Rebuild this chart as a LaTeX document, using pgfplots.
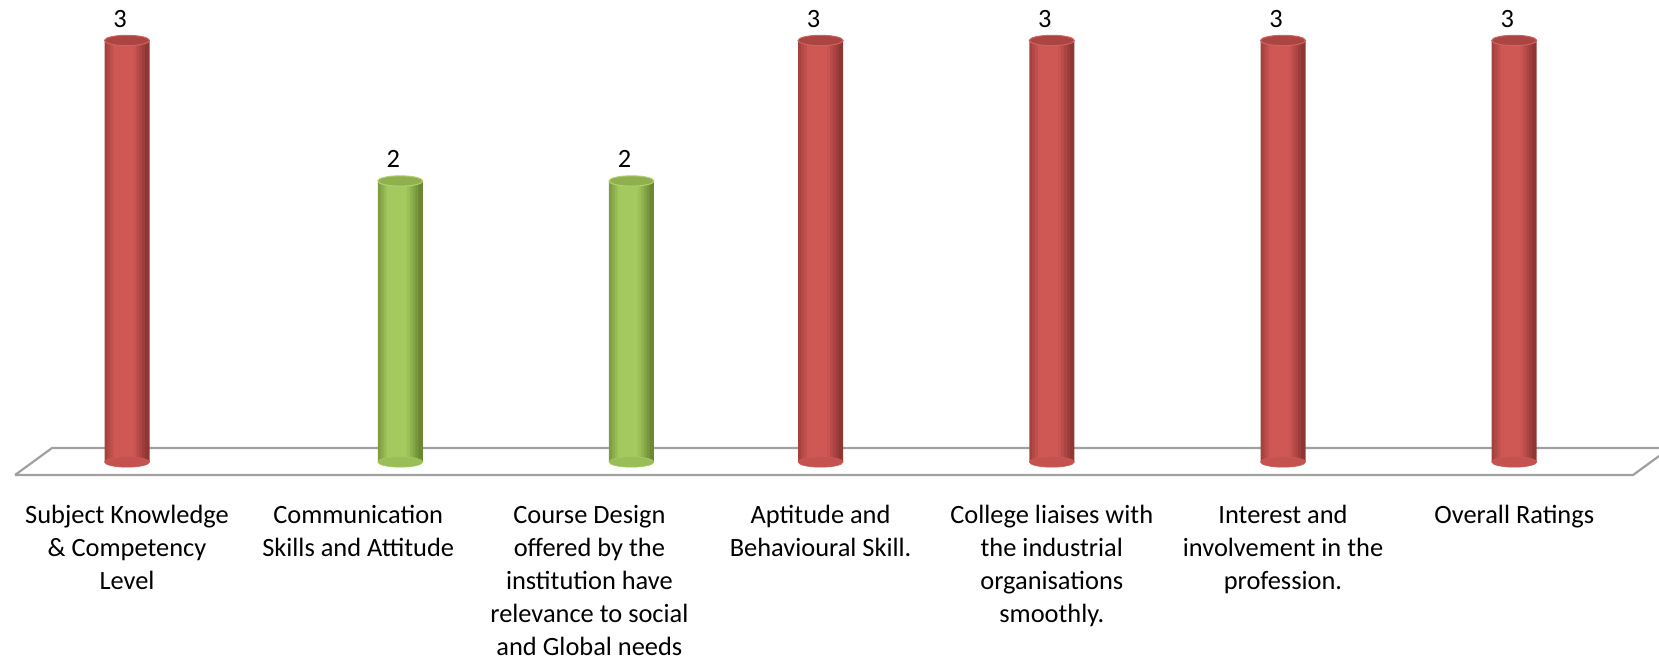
\documentclass[border=0pt]{standalone}
\usepackage{pgfplots}
\pgfplotsset{compat=1.18}
\usepackage{fontspec}
\setmainfont{Carlito}

\definecolor{redE}{RGB}{134,50,48}
\definecolor{redM}{RGB}{207,88,85}
\definecolor{redTop}{RGB}{172,68,65}
\definecolor{redRim}{RGB}{204,100,97}
\definecolor{grnE}{RGB}{100,128,44}
\definecolor{grnM}{RGB}{164,201,95}
\definecolor{grnTop}{RGB}{144,176,78}
\definecolor{grnRim}{RGB}{178,208,112}
\definecolor{floorgray}{RGB}{160,160,160}

% colours of the thin strips that make up each cylinder
\pgfplotsforeachungrouped \i in {0,...,14}{%
  \pgfmathsetmacro\t{(\i+0.5)/15}%
  \pgfmathsetmacro\p{100*min(1,1.6*(1-abs(\t-0.45)/0.56))}%
  \colorlet{rs\i}{redM!\p!redE}%
  \colorlet{gs\i}{grnM!\p!grnE}%
}

% flat ellipse used for the cylinder ends
\pgfdeclareplotmark{cylcap}{%
  \pgfpathellipse{\pgfpointorigin}{\pgfqpoint{\pgfplotmarksize}{0pt}}{\pgfqpoint{0pt}{0.23\pgfplotmarksize}}%
  \pgfusepathqfillstroke}

\begin{document}
\begin{tikzpicture}
\useasboundingbox (0,-90bp) rectangle (829.5bp,240bp);
\begin{axis}[
    at={(0,0)}, anchor=south west,
    width=829.5bp, height=240bp, scale only axis,
    xmin=-0.5493, xmax=6.6263,
    ymin=-0.128, ymax=3.288,
    axis x line*=bottom, axis y line=none,
    x axis line style={draw=none},
    major tick length=0pt,
    ytick=\empty,
    xtick={0,...,6},
    xticklabels={
        {\strut Subject Knowledge\\\& Competency\\Level},
        {\strut Communication\\Skills and Attitude},
        {\strut Course Design\\offered by the\\institution have\\relevance to social\\and Global needs},
        {\strut Aptitude and\\Behavioural Skill.},
        {\strut College liaises with\\the industrial\\organisations\\smoothly.},
        {\strut Interest and\\involvement in the\\profession.},
        {\strut Overall Ratings}},
    xticklabel style={font=\fontsize{13.2bp}{16.55bp}\selectfont, align=center,
        anchor=north, yshift=-9.9bp, inner sep=0pt},
    /pgf/number format/assume math mode=true,
    every node near coord/.append style={font=\fontsize{13.2bp}{16bp}\selectfont,
        anchor=base, yshift=6.5bp, xshift=-3.5bp, inner sep=0pt, text=black},
    ]
% floor
\addplot[draw=floorgray, line width=1.1bp, mark=none, line join=miter] coordinates {
(-0.4844,-0.0925) (6.514,-0.0925) (6.674,0.0996) (-0.3244,0.0996) (-0.4844,-0.0925)
};
% bottom ends
\addplot[only marks, mark=cylcap, mark size=11.25bp,
    mark options={fill=redM!85!redE, draw=redM, line width=0.3bp}] coordinates {
(0,0) (3,0) (4,0) (5,0) (6,0)
};
\addplot[only marks, mark=cylcap, mark size=11.25bp,
    mark options={fill=grnM!85!grnE, draw=grnM, line width=0.3bp}] coordinates {
(1.182,0) (2.182,0)
};
% column bodies, strip by strip
\pgfplotsinvokeforeach{0,...,14}{
\addplot[ybar, bar width=2.2bp, bar shift={(#1-7)*1.45bp}, draw=none, fill=rs#1]
  coordinates {(0,3) (3,3) (4,3) (5,3) (6,3)};
\addplot[ybar, bar width=2.2bp, bar shift={(#1-7)*1.45bp}, draw=none, fill=gs#1]
  coordinates {(1.182,2) (2.182,2)};
}
% top ends with value labels
\addplot[only marks, mark=cylcap, mark size=11.25bp,
    mark options={fill=redTop, draw=redRim, line width=0.5bp},
    nodes near coords] coordinates {
(0,3) (3,3) (4,3) (5,3) (6,3)
};
\addplot[only marks, mark=cylcap, mark size=11.25bp,
    mark options={fill=grnTop, draw=grnRim, line width=0.5bp},
    nodes near coords] coordinates {
(1.182,2) (2.182,2)
};
\end{axis}
\end{tikzpicture}
\end{document}
